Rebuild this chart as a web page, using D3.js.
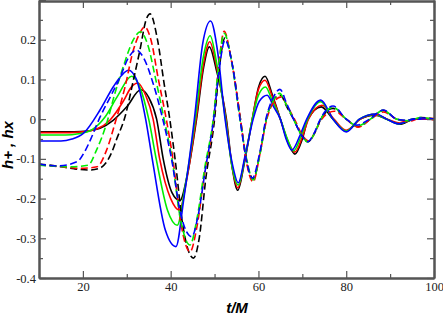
<!DOCTYPE html>
<html><head><meta charset="utf-8">
<script src="https://cdn.jsdelivr.net/npm/d3@7"></script>
<style>html,body{margin:0;padding:0;background:#fff;}svg{display:block;}</style>
</head><body>
<svg id="c" width="443" height="316"></svg>
<script>
const xTicks = [20, 40, 60, 80, 100];
const yTicks = [-0.4, -0.3, -0.2, -0.1, 0, 0.1, 0.2];
const yTickLabels = ["-0.4", "-0.3", "-0.2", "-0.1", "0", "0.1", "0.2"];
const seriesNames = ["black solid", "red solid", "green solid", "blue solid", "black dashed", "red dashed", "green dashed", "blue dashed"];
const seriesColors = ["#000000", "#ff0000", "#00ee00", "#0000ff", "#000000", "#ff0000", "#00ee00", "#0000ff"];
const seriesDashed = [false, false, false, false, true, true, true, true];

const blackSolid = [[10,-0.032],[18,-0.032],[21,-0.03],[23.9,-0.023],[26.9,-0.003],[30,0.031],[33.2,0.074],[35,0.055],[36.8,0],[38.3,-0.1],[40.3,-0.185],[42.1,-0.205],[43.8,-0.14],[45.9,0],[47.5,0.13],[48.8,0.182],[50.5,0.12],[52.7,0],[54,-0.12],[55.3,-0.179],[56.8,-0.11],[58.6,0],[60,0.08],[61.5,0.108],[63.2,0.06],[65,0],[66.8,-0.06],[68.3,-0.088],[70,-0.05],[71.3,0],[74.3,0.031],[77,0],[80,-0.03],[83.2,0],[86.5,0.01],[89.3,0],[92.2,-0.013],[95.5,0],[100,0]];
const redSolid = [[10,-0.034],[17,-0.034],[20,-0.032],[23.1,-0.025],[26.2,-0.002],[29.2,0.045],[31,0.08],[32.5,0.091],[34.3,0.06],[36,0],[37.5,-0.1],[40,-0.2],[42,-0.229],[43.7,-0.15],[45.8,0],[47.5,0.14],[48.9,0.195],[50.5,0.13],[52.6,0],[54,-0.12],[55.3,-0.173],[56.8,-0.105],[58.6,0],[60,0.075],[61.5,0.098],[63.2,0.055],[65,0],[66.7,-0.055],[68.3,-0.083],[70,-0.045],[71.4,0],[74.5,0.035],[77.2,0],[80,-0.028],[83.2,0],[86.5,0.012],[89.3,0],[92.2,-0.01],[95.5,0],[100,0.002]];
const greenSolid = [[10,-0.04],[16,-0.04],[19,-0.037],[22,-0.027],[25,0.005],[28,0.06],[31.1,0.108],[33,0.08],[35,0],[36.7,-0.1],[39.3,-0.23],[41.5,-0.267],[43.3,-0.17],[45.6,0],[47.5,0.16],[49,0.21],[50.5,0.14],[52.5,0],[54,-0.12],[55.4,-0.166],[56.9,-0.1],[58.6,0],[60,0.06],[61.6,0.081],[63.2,0.045],[65,0],[66.6,-0.05],[68,-0.08],[69.8,-0.04],[71.2,0],[74.2,0.044],[77,0],[80,-0.03],[83,0],[86.5,0.012],[89.2,0],[92,-0.012],[95.3,0],[100,0]];
const blueSolid = [[10,-0.055],[15,-0.055],[17.5,-0.05],[20.1,-0.036],[23.9,0.023],[26.9,0.081],[28.8,0.11],[30.4,0.123],[32.2,0.1],[34.3,0],[35.8,-0.1],[38.8,-0.28],[41.2,-0.321],[43,-0.2],[45.4,0],[47.3,0.19],[49.1,0.247],[50.7,0.17],[52.4,0],[54,-0.11],[55.4,-0.16],[57,-0.09],[58.8,0],[60.2,0.045],[62,0.06],[63.5,0.03],[65,0],[66.3,-0.05],[67.6,-0.078],[69.5,-0.04],[71,0],[74.2,0.048],[77,0],[80,-0.032],[83,0],[86.8,0.013],[89.2,0],[92,-0.012],[95.3,0],[100,0]];
const blackDashed = [[10,-0.113],[14,-0.118],[18,-0.125],[21.5,-0.128],[23.9,-0.123],[26.6,-0.083],[27.7,-0.05],[29.6,0.006],[31.5,0.098],[33,0.174],[34.4,0.25],[35.3,0.265],[37,0.2],[38.5,0.09],[39.8,0],[41,-0.1],[42.8,-0.27],[45.2,-0.35],[46.5,-0.3],[48,-0.15],[50,0],[51,0.12],[52.4,0.205],[54,0.14],[55.9,0],[57.2,-0.1],[58.8,-0.15],[60.3,-0.09],[61.8,0],[63.5,0.05],[65,0.06],[66.5,0.03],[68,0],[69.8,-0.04],[71.3,-0.057],[72.8,-0.035],[74.2,0],[77,0.027],[80,0],[82.6,-0.019],[85.5,0],[88.4,0.022],[91.5,0],[94,-0.004],[97,0.004],[100,0]];
const redDashed = [[10,-0.115],[15,-0.12],[19.3,-0.124],[23.2,-0.12],[25.4,-0.078],[27.3,-0.011],[29.6,0.081],[31.5,0.174],[32.9,0.215],[34.1,0.232],[35.5,0.2],[37.2,0.1],[39,0],[40.5,-0.1],[42.3,-0.26],[44.4,-0.334],[46,-0.27],[47.8,-0.13],[49.8,0],[50.9,0.13],[52.2,0.221],[53.8,0.15],[55.9,0],[57.3,-0.11],[58.8,-0.158],[60.3,-0.09],[61.9,0],[63.6,0.045],[65.2,0.056],[66.7,0.03],[68.2,0],[70,-0.04],[71.5,-0.055],[73,-0.03],[74.4,0],[77.3,0.02],[80,0],[82.8,-0.02],[85.6,0],[88.5,0.018],[91.5,0],[94,-0.006],[97,0.002],[100,-0.002]];
const greenDashed = [[10,-0.116],[13,-0.118],[17,-0.12],[21.2,-0.116],[23.1,-0.078],[25.4,-0.011],[27.3,0.065],[29.2,0.132],[31.5,0.2],[33.1,0.22],[34.7,0.19],[36.6,0.1],[38.5,0],[40.3,-0.1],[42.2,-0.25],[44.4,-0.317],[46,-0.25],[47.8,-0.12],[49.7,0],[50.9,0.13],[52.2,0.216],[53.8,0.15],[55.8,0],[57.3,-0.1],[58.8,-0.153],[60.3,-0.09],[61.8,0],[63.5,0.05],[64.8,0.065],[66.4,0.035],[68,0],[69.8,-0.04],[71.3,-0.057],[72.8,-0.035],[74.2,0],[77,0.03],[80,0],[82.6,-0.017],[85.5,0],[88.4,0.022],[91.5,0],[94,-0.004],[97,0.004],[100,0]];
const blueDashed = [[10,-0.113],[14.1,-0.118],[18.7,-0.107],[20.5,-0.08],[22,-0.045],[23.9,0.005],[26.2,0.055],[28.5,0.106],[30.3,0.153],[32.2,0.174],[33.8,0.155],[36,0.09],[38.2,0],[40.2,-0.1],[42.3,-0.24],[44.8,-0.296],[46.3,-0.24],[48,-0.12],[49.8,0],[51,0.12],[52.4,0.199],[54,0.14],[55.8,0],[57.2,-0.1],[58.6,-0.149],[60.2,-0.09],[61.7,0],[63.4,0.055],[64.9,0.075],[66.4,0.04],[68,0],[69.8,-0.04],[71.2,-0.057],[72.7,-0.035],[74.1,0],[77,0.033],[80,0],[82.4,-0.015],[85.3,0],[88.5,0.023],[91.5,0],[94,-0.003],[97,0.003],[100,0]];
const seriesData = [blackSolid, redSolid, greenSolid, blueSolid, blackDashed, redDashed, greenDashed, blueDashed];

const L = 39, R = 434, T = 0, B = 278;
const x = d3.scaleLinear().domain([10, 100]).range([L, R]);
const y = d3.scaleLinear().domain([-0.4, 0.3]).range([B, T]);
const svg = d3.select("#c");
const frameColor = "#555";

const plot = svg.append("g");
plot.append("clipPath").attr("id", "clip").append("rect").attr("x", L).attr("y", T).attr("width", R - L).attr("height", B - T);
const line = d3.line().x(d => x(d[0])).y(d => y(d[1])).curve(d3.curveMonotoneX);
const g = plot.append("g").attr("clip-path", "url(#clip)");
seriesData.forEach((data, i) => {
  g.append("path").datum(data)
    .attr("d", line)
    .attr("fill", "none")
    .attr("stroke", seriesColors[i])
    .attr("stroke-width", 1.6)
    .attr("stroke-dasharray", seriesDashed[i] ? "7,3.5" : null);
});

// axes
const fmt = d => yTickLabels[yTicks.findIndex(v => Math.abs(v - d) < 1e-9)];
const xMinor = d3.range(10, 101, 10).filter(v => xTicks.indexOf(v) < 0);
const yMinor = d3.range(-0.35, 0.31, 0.1);

const axB = d3.axisBottom(x).tickValues(xTicks).tickSizeInner(-7).tickSizeOuter(0).tickPadding(4).tickFormat(d3.format("d"));
const axBm = d3.axisBottom(x).tickValues(xMinor).tickSizeInner(-4).tickSizeOuter(0).tickFormat("");
const axT = d3.axisTop(x).tickValues(xTicks).tickSizeInner(-7).tickSizeOuter(0).tickFormat("");
const axTm = d3.axisTop(x).tickValues(xMinor).tickSizeInner(-4).tickSizeOuter(0).tickFormat("");
const axL = d3.axisLeft(y).tickValues(yTicks.concat([0.3])).tickSizeInner(-7).tickSizeOuter(0).tickPadding(3).tickFormat(d => Math.abs(d-0.3)<1e-9 ? "" : fmt(d));
const axLm = d3.axisLeft(y).tickValues(yMinor).tickSizeInner(-4).tickSizeOuter(0).tickFormat("");
const axR = d3.axisRight(y).tickValues(yTicks).tickSizeInner(-7).tickSizeOuter(0).tickFormat("");
const axRm = d3.axisRight(y).tickValues(yMinor).tickSizeInner(-4).tickSizeOuter(0).tickFormat("");

function style(sel) {
  sel.attr("font-family", null);
  sel.selectAll("path.domain").attr("stroke", frameColor).attr("stroke-width", 2);
  sel.selectAll(".tick line").attr("stroke", frameColor).attr("stroke-width", 1.2);
  sel.selectAll(".tick text").style("font-family", "'Liberation Serif', 'Times New Roman', serif").style("font-size", "12.5px").attr("fill", "#222");
}
[[axB, `translate(0,${B})`], [axBm, `translate(0,${B})`], [axT, `translate(0,${T+1})`], [axTm, `translate(0,${T+1})`],
 [axL, `translate(${L},0)`], [axLm, `translate(${L},0)`], [axR, `translate(${R},0)`], [axRm, `translate(${R},0)`]].forEach(([ax, tr]) => {
  svg.append("g").attr("transform", tr).call(ax).call(style);
});

svg.append("text").attr("x", 237).attr("y", 313).attr("text-anchor", "middle")
  .style("font-family", "'Liberation Sans', Arial, sans-serif").attr("font-weight", "bold").attr("font-style", "italic")
  .attr("font-size", 15).text("t/M");
svg.append("text").attr("transform", "translate(13,145) rotate(-90)").attr("text-anchor", "middle")
  .style("font-family", "'Liberation Sans', Arial, sans-serif").attr("font-weight", "bold").attr("font-style", "italic")
  .attr("font-size", 15).text("h+ , hx");
</script>
</body></html>
